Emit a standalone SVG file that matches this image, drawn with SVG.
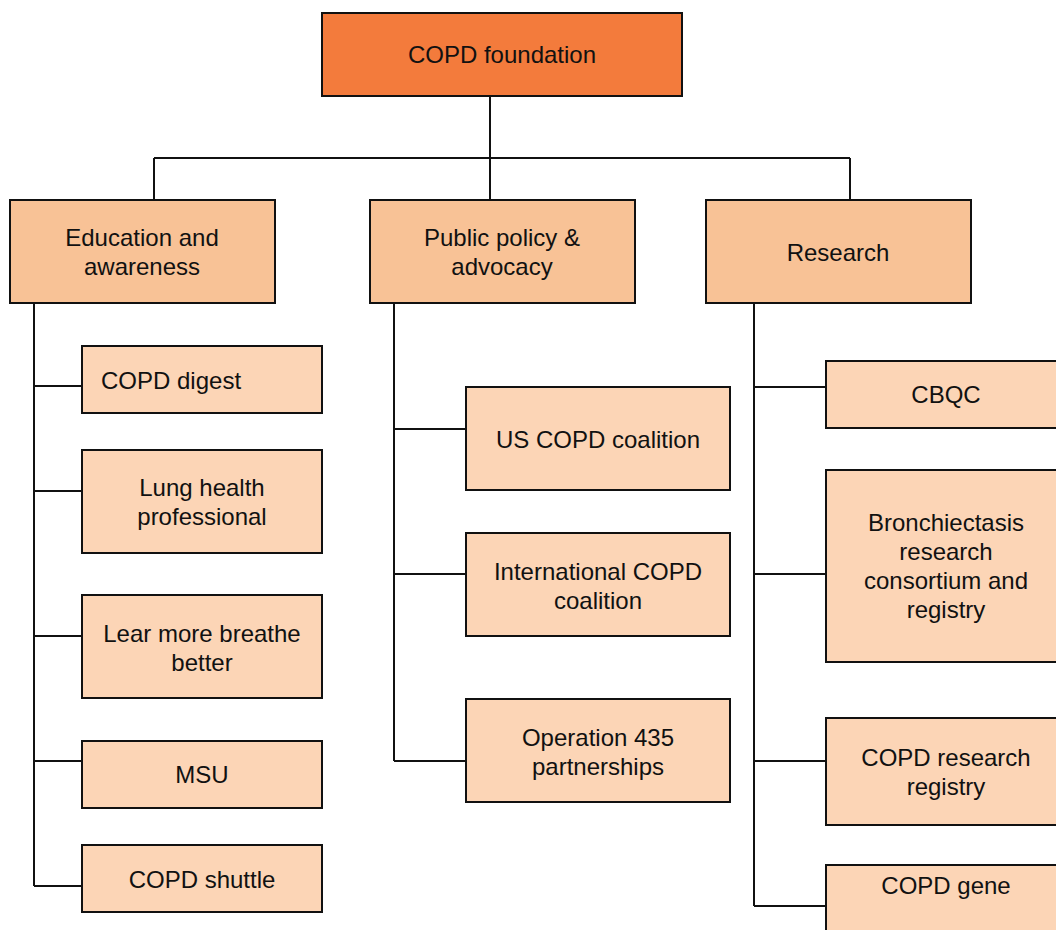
<svg xmlns="http://www.w3.org/2000/svg" width="1056" height="930" viewBox="0 0 1056 930">
<style>
.box{stroke:#111;stroke-width:2}
.root{fill:#F37B3C}
.l2{fill:#F8C296}
.l3{fill:#FCD5B6}
text{font-family:"Liberation Sans",Arial,sans-serif;font-size:24px;fill:#111;text-anchor:middle}
.ln{stroke:#111;stroke-width:2;fill:none}
</style>
<rect width="1056" height="930" fill="#fff"/>
<g id="connectors">
<path class="ln" d="M490 96V200M154 158H850M154 158V200M850 158V200"/>
<path class="ln" d="M34 303V886M34 386H82M34 491H82M34 636H82M34 761H82M34 886H82"/>
<path class="ln" d="M394 303V761M394 429H466M394 574H466M394 761H466"/>
<path class="ln" d="M754 303V906M754 387H826M754 574H826M754 761H826M754 906H826"/>
</g>
<g id="root"><rect class="box root" x="322" y="13" width="360" height="83"/><text x="502" y="63">COPD foundation</text></g>
<g id="education"><rect class="box l2" x="10" y="200" width="265" height="103"/><text x="142" y="246">Education and</text><text x="142" y="275">awareness</text></g>
<g id="policy"><rect class="box l2" x="370" y="200" width="265" height="103"/><text x="502" y="246">Public policy &amp;</text><text x="502" y="275">advocacy</text></g>
<g id="research"><rect class="box l2" x="706" y="200" width="265" height="103"/><text x="838" y="261">Research</text></g>
<g id="digest"><rect class="box l3" x="82" y="346" width="240" height="67"/><text x="101" y="389" style="text-anchor:start">COPD digest</text></g>
<g id="lung"><rect class="box l3" x="82" y="450" width="240" height="103"/><text x="202" y="496">Lung health</text><text x="202" y="525">professional</text></g>
<g id="lear"><rect class="box l3" x="82" y="595" width="240" height="103"/><text x="202" y="642">Lear more breathe</text><text x="202" y="671">better</text></g>
<g id="msu"><rect class="box l3" x="82" y="741" width="240" height="67"/><text x="202" y="783">MSU</text></g>
<g id="shuttle"><rect class="box l3" x="82" y="845" width="240" height="67"/><text x="202" y="888">COPD shuttle</text></g>
<g id="us"><rect class="box l3" x="466" y="387" width="264" height="103"/><text x="598" y="448">US COPD coalition</text></g>
<g id="intl"><rect class="box l3" x="466" y="533" width="264" height="103"/><text x="598" y="580">International COPD</text><text x="598" y="609">coalition</text></g>
<g id="op435"><rect class="box l3" x="466" y="699" width="264" height="103"/><text x="598" y="746">Operation 435</text><text x="598" y="775">partnerships</text></g>
<g id="cbqc"><rect class="box l3" x="826" y="361" width="240" height="67"/><text x="946" y="403">CBQC</text></g>
<g id="bronch"><rect class="box l3" x="826" y="470" width="240" height="192"/><text x="946" y="531">Bronchiectasis</text><text x="946" y="560">research</text><text x="946" y="589">consortium and</text><text x="946" y="618">registry</text></g>
<g id="registry"><rect class="box l3" x="826" y="718" width="240" height="107"/><text x="946" y="766">COPD research</text><text x="946" y="795">registry</text></g>
<g id="gene"><rect class="box l3" x="826" y="865" width="240" height="80"/><text x="946" y="894">COPD gene</text></g>
</svg>
